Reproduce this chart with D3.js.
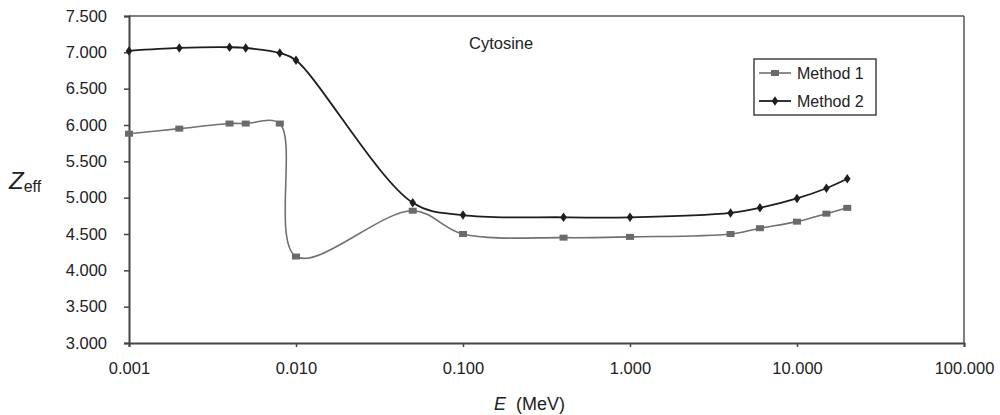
<!DOCTYPE html>
<html>
<head>
<meta charset="utf-8">
<script src="https://cdn.jsdelivr.net/npm/d3@7"></script>
<style>
  html, body { margin: 0; padding: 0; background: #fff; }
  svg { display: block; font-family: "Liberation Sans", Arial, sans-serif; }
</style>
</head>
<body>
<svg id="chart" width="1000" height="415"></svg>
<script>
const energies = [0.001, 0.002, 0.004, 0.005, 0.008, 0.01, 0.05, 0.1, 0.4, 1, 4, 6, 10, 15, 20];
const method1 = [5.88, 5.95, 6.02, 6.02, 6.02, 4.19, 4.82, 4.50, 4.45, 4.46, 4.50, 4.58, 4.67, 4.78, 4.86];
const method2 = [7.02, 7.06, 7.07, 7.06, 6.99, 6.89, 4.93, 4.76, 4.73, 4.73, 4.79, 4.86, 4.99, 5.13, 5.26];
const seriesNames = ["Method 1", "Method 2"];
const xTicks = [0.001, 0.01, 0.1, 1, 10, 100];
const yTicks = [3.0, 3.5, 4.0, 4.5, 5.0, 5.5, 6.0, 6.5, 7.0, 7.5];
const chartTitle = "Cytosine";

const svg = d3.select("#chart");
const L = 129, R = 964, T = 16, B = 343;

const x = d3.scaleLog().domain([0.001, 100]).range([L, R]);
const y = d3.scaleLinear().domain([3, 7.5]).range([B, T]);
const fmt = d3.format(".3f");

// frame: top and right
svg.append("line").attr("x1", L).attr("x2", R).attr("y1", T).attr("y2", T)
  .attr("stroke", "#555").attr("stroke-width", 1.5);
svg.append("line").attr("x1", R).attr("x2", R).attr("y1", T).attr("y2", B)
  .attr("stroke", "#555").attr("stroke-width", 1.5);

// axes
const xAxis = svg.append("g").attr("transform", `translate(0,${B})`)
  .call(d3.axisBottom(x).tickValues(xTicks).tickFormat(fmt).tickSize(4).tickPadding(15));
const yAxis = svg.append("g").attr("transform", `translate(${L},0)`)
  .call(d3.axisLeft(y).tickValues(yTicks).tickFormat(fmt).tickSize(5).tickPadding(17));
[xAxis, yAxis].forEach(g => {
  g.select(".domain").attr("stroke", "#444").attr("stroke-width", 2);
  g.selectAll(".tick line").attr("stroke", "#444").attr("stroke-width", 1.5);
  g.selectAll(".tick text").attr("fill", "#222").style("font-size", "16.5px")
    .style("font-family", '"Liberation Sans", Arial, sans-serif');
});

// axis titles
const xt = svg.append("text").attr("x", 494).attr("y", 410).attr("fill", "#222")
  .style("font-size", "18px");
xt.append("tspan").attr("font-style", "italic").text("E");
xt.append("tspan").attr("dx", 10).text("(MeV)");

const yt = svg.append("text").attr("x", 9).attr("y", 189).attr("fill", "#222");
yt.append("tspan").attr("font-style", "italic").style("font-size", "24px").text("Z");
yt.append("tspan").attr("dy", 3).style("font-size", "16px").text("eff");

// title
svg.append("text").attr("x", 469).attr("y", 49).attr("fill", "#222")
  .style("font-size", "16.5px").text(chartTitle);

const line = d3.line()
  .x(d => x(d[0])).y(d => y(d[1]))
  .curve(d3.curveCatmullRom.alpha(0.5));

const d1 = energies.map((e, i) => [e, method1[i]]);
const d2 = energies.map((e, i) => [e, method2[i]]);

svg.append("path").datum(d1).attr("d", line).attr("fill", "none")
  .attr("stroke", "#707070").attr("stroke-width", 1.6);
svg.append("path").datum(d2).attr("d", line).attr("fill", "none")
  .attr("stroke", "#1e1e1e").attr("stroke-width", 1.8);

svg.append("g").selectAll("rect").data(d1).join("rect")
  .attr("x", d => x(d[0]) - 4).attr("y", d => y(d[1]) - 3)
  .attr("width", 8).attr("height", 6).attr("fill", "#6a6a6a");

const diamond = d3.symbol().type(d3.symbolDiamond).size(26);
svg.append("g").selectAll("path").data(d2).join("path")
  .attr("transform", d => `translate(${x(d[0])},${y(d[1])}) scale(1.2,1)`)
  .attr("d", diamond).attr("fill", "#1e1e1e");

// legend
const lg = svg.append("g");
lg.append("rect").attr("x", 754).attr("y", 59).attr("width", 122).attr("height", 56)
  .attr("fill", "#fff").attr("stroke", "#444").attr("stroke-width", 1.5);
const rows = [73, 101];
lg.append("line").attr("x1", 759).attr("x2", 791).attr("y1", rows[0]).attr("y2", rows[0])
  .attr("stroke", "#707070").attr("stroke-width", 1.6);
lg.append("rect").attr("x", 771).attr("y", rows[0] - 3).attr("width", 8).attr("height", 6)
  .attr("fill", "#6a6a6a");
lg.append("line").attr("x1", 759).attr("x2", 791).attr("y1", rows[1]).attr("y2", rows[1])
  .attr("stroke", "#1e1e1e").attr("stroke-width", 1.8);
lg.append("path").attr("transform", `translate(775,${rows[1]}) scale(1.2,1)`)
  .attr("d", diamond).attr("fill", "#1e1e1e");
seriesNames.forEach((n, i) => {
  lg.append("text").attr("x", 797).attr("y", rows[i] + 5.5).attr("fill", "#222")
    .style("font-size", "16px").text(n);
});
</script>
</body>
</html>
